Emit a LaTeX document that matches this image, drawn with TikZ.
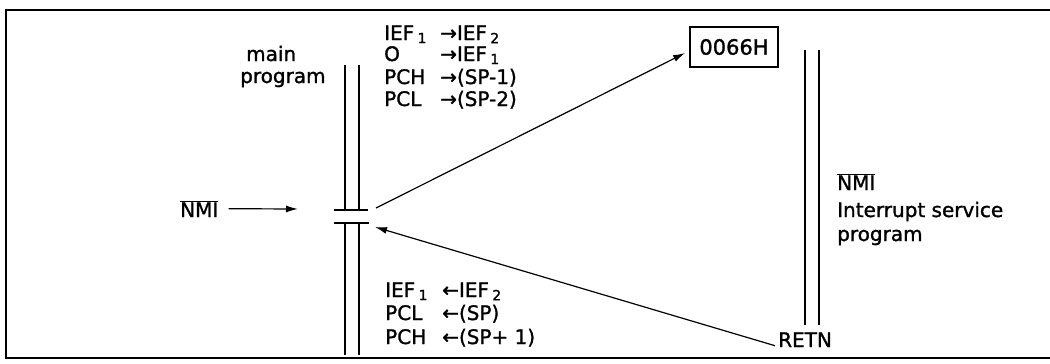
\documentclass[tikz,border=0pt]{standalone}
\usepackage{fontspec}
\setmainfont{DejaVu Sans}[BoldFont=DejaVu Sans, BoldFeatures={FakeBold=1.3}]
\usetikzlibrary{arrows.meta}
\newcommand{\ovl}[1]{$\overline{\mbox{#1}}$}
\newcommand{\sub}[1]{\,\textsubscript{#1}}
\begin{document}
\begin{tikzpicture}[x=1pt,y=-1pt,
  lbl/.style={font=\fontsize{20}{24}\selectfont\bfseries, inner sep=0pt, anchor=base west},
  conn/.style={line width=1.2pt, -{Latex[length=12pt,width=7pt]}},
  prog/.style={line width=1.5pt},
  bar/.style={line width=2.8pt},
  frame/.style={line width=1.8pt}]
\useasboundingbox (0,0) rectangle (1050,364);
% frame
\draw[frame] (1050,10) -- (6,10) -- (6,358) -- (1050,358);
% main program lines
\draw[prog] (345,65) -- (345,210) (359,65) -- (359,210);
\draw[prog] (345,223) -- (345,355) (359,223) -- (359,355);
\draw[bar] (334,210) -- (368,210);
\draw[bar] (334,223) -- (369,223);
\coordinate (gapU) at (376,208);
\coordinate (gapL) at (375,227);
% interrupt service lines
\draw[prog] (805,50) -- (805,325) (819,50) -- (819,325);
% labels
\node[lbl] (mainA) at (246,61) {main};
\node[lbl] (mainB) at (240,83) {program};
\node[lbl] (t1a) at (384,40) {IEF\sub{1}};
\node[lbl] (t1b) at (440,40) {→IEF\sub{2}};
\node[lbl] (t2a) at (384,61) {O};
\node[lbl] (t2b) at (440,61) {→IEF\sub{1}};
\node[lbl] (t3a) at (384,84) {PCH};
\node[lbl] (t3b) at (440,84) {→(SP-1)};
\node[lbl] (t4a) at (384,106) {PCL};
\node[lbl] (t4b) at (440,106) {→(SP-2)};
\node[lbl] (b1a) at (385,297) {IEF\sub{1}};
\node[lbl] (b1b) at (442,297) {←IEF\sub{2}};
\node[lbl] (b2a) at (385,320) {PCL};
\node[lbl] (b2b) at (442,320) {←(SP)};
\node[lbl] (b3a) at (385,344) {PCH};
\node[lbl] (b3b) at (442,344) {←(SP+ 1)};
\node[lbl] (nmi) at (180,217) {\ovl{NMI}};
\coordinate (nmitip) at (298,209);
\node[lbl] (rnmi) at (837,190) {\ovl{NMI}};
\node[lbl] (rint) at (837,217) {Interrupt service};
\node[lbl] (rprog) at (837,241) {program};
\node[lbl] (retn) at (778,347) {RETN};
\node[draw, line width=1.8pt, inner sep=0pt, minimum width=88pt, minimum height=40pt,
  font=\fontsize{21}{24}\selectfont\bfseries] (box) at (734,47) {0066H};
% connectors
\draw[conn] ([xshift=10pt]nmi.east) -- (nmitip);
\draw[conn] (gapU) -- ([xshift=-4pt,yshift=-6pt]box.west);
\draw[conn] ([xshift=-3pt,yshift=-6pt]retn.west) -- (gapL);
\end{tikzpicture}
\end{document}
